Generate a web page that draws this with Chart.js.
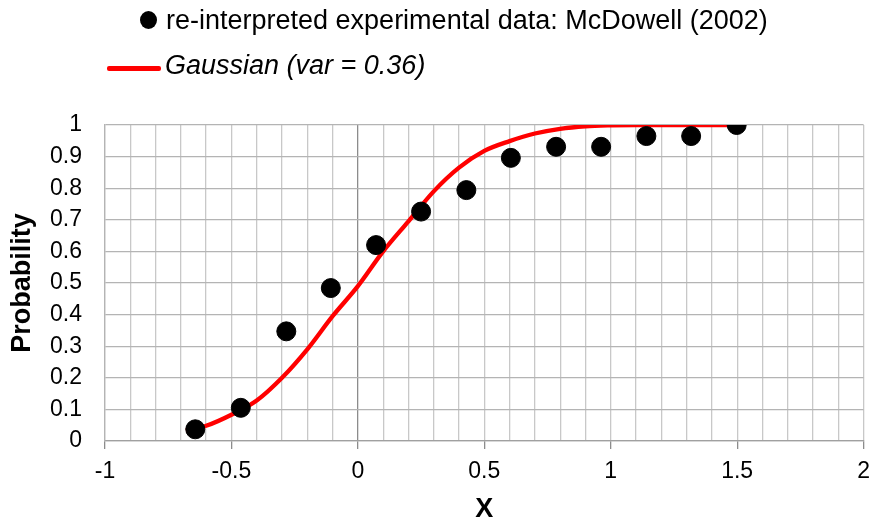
<!DOCTYPE html>
<html>
<head>
<meta charset="utf-8">
<script src="https://cdn.jsdelivr.net/npm/chart.js@4/dist/chart.umd.min.js"></script>
<style>
  html, body { margin: 0; padding: 0; background: #fff; }
  #wrap { position: relative; width: 879px; height: 526px; font-family: Arial, "Liberation Sans", sans-serif; }
  #chart { position: absolute; left: 0; top: 0; }
  .leg { position: absolute; font-size: 27px; color: #000; white-space: nowrap; line-height: 30px; }
  .dot { position: absolute; width: 17px; height: 18px; border-radius: 50%; background: #000; }
  .line { position: absolute; height: 5px; background: #ff0000; border-radius: 2px; }
</style>
</head>
<body>
<div id="wrap">
  <canvas id="chart" width="879" height="526"></canvas>
  <div class="dot" style="left:140px; top:11px;"></div>
  <div class="leg" style="left:166px; top:5px;">re-interpreted experimental data: McDowell (2002)</div>
  <div class="line" style="left:107px; top:66px; width:54px;"></div>
  <div class="leg" style="left:165px; top:50px; font-style:italic;">Gaussian (var = 0.36)</div>
</div>
<script>
// experimental points
const pointX = [-0.643, -0.463, -0.283, -0.107, 0.072, 0.25, 0.429, 0.605, 0.784, 0.962, 1.141, 1.318, 1.498];
const pointY = [0.037, 0.105, 0.347, 0.484, 0.62, 0.726, 0.794, 0.896, 0.931, 0.931, 0.965, 0.965, 1.0];

// gaussian curve
const curveX = [-0.68, -0.6, -0.5, -0.4, -0.3, -0.2, -0.1, 0, 0.1, 0.2, 0.3, 0.4, 0.5, 0.6, 0.7, 0.8, 0.9, 1.0, 1.1, 1.2, 1.3, 1.4, 1.5];
const curveY = [0.033, 0.048, 0.083, 0.128, 0.2, 0.29, 0.395, 0.49, 0.6, 0.695, 0.79, 0.865, 0.918, 0.949, 0.973, 0.988, 0.996, 0.999, 1, 1, 1, 1, 1];

const xLabels = ['-1', '-0.5', '0', '0.5', '1', '1.5', '2'];

const isMajor = (v) => Math.abs(v * 2 - Math.round(v * 2)) < 1e-6;

const ctx = document.querySelector('#chart').getContext('2d');

new Chart(ctx, {
    type: 'scatter',
    data: {
        datasets: [
            {
                label: 're-interpreted experimental data: McDowell (2002)',
                data: pointX.map((x, i) => ({x: x, y: pointY[i]})),
                backgroundColor: '#000',
                borderColor: '#000',
                pointRadius: 9.5,
                pointHoverRadius: 9.5,
                order: 0
            },
            {
                label: 'Gaussian (var = 0.36)',
                data: curveX.map((x, i) => ({x: x, y: curveY[i]})),
                showLine: true,
                borderColor: '#ff0000',
                borderWidth: 4.3,
                pointRadius: 0,
                cubicInterpolationMode: 'monotone',
                order: 1
            }
        ]
    },
    options: {
        responsive: false,
        animation: false,
        layout: { padding: { top: 125, right: 11, left: 0, bottom: 0 } },
        plugins: { legend: { display: false }, tooltip: { enabled: false } },
        scales: {
            x: {
                type: 'linear',
                min: -1,
                max: 2,
                afterFit: (s) => { s.height = 85; },
                border: { color: '#a0a0a0', width: 1.3 },
                grid: {
                    color: (c) => Math.abs(c.tick.value) < 1e-6 ? '#8c8c8c' : '#c8c8c8',
                    lineWidth: 1.3,
                    tickColor: (c) => isMajor(c.tick.value) ? '#8c8c8c' : 'rgba(0,0,0,0)',
                    tickLength: 8
                },
                ticks: {
                    stepSize: 0.1,
                    autoSkip: false,
                    maxRotation: 0,
                    padding: 9,
                    color: '#000',
                    font: { family: 'Arial, "Liberation Sans"', size: 23 },
                    callback: (v) => {
                        if (!isMajor(v)) return '';
                        return xLabels[Math.round((v + 1) * 2)];
                    }
                },
                title: {
                    display: true,
                    text: 'X',
                    color: '#000',
                    font: { family: 'Arial, "Liberation Sans"', size: 27, weight: 'bold' },
                    padding: { top: 0, bottom: 0 }
                }
            },
            y: {
                min: 0,
                max: 1,
                afterFit: (s) => { s.width = 105; },
                border: { color: '#b4b4b4', width: 1.3 },
                grid: { color: '#b4b4b4', lineWidth: 1.3, drawTicks: false },
                ticks: {
                    stepSize: 0.1,
                    padding: 23,
                    color: '#000',
                    font: { family: 'Arial, "Liberation Sans"', size: 23 },
                    callback: (v) => String(Math.round(v * 10) / 10)
                },
                title: {
                    display: true,
                    text: 'Probability',
                    color: '#000',
                    font: { family: 'Arial, "Liberation Sans"', size: 27, weight: 'bold' },
                    padding: { top: 6, bottom: 0 }
                }
            }
        }
    }
});
</script>
</body>
</html>
